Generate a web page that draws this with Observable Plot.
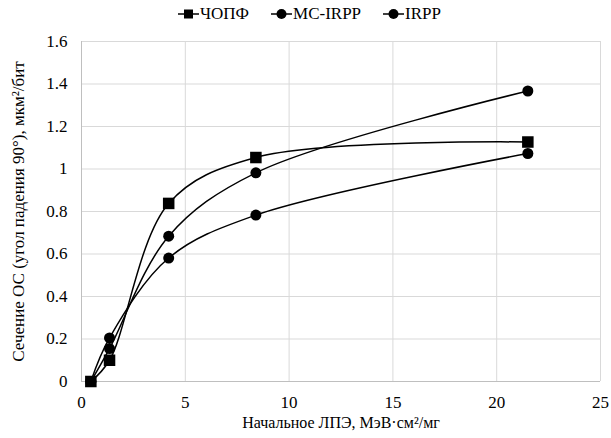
<!DOCTYPE html>
<html>
<head>
<meta charset="utf-8">
<script src="https://cdn.jsdelivr.net/npm/d3@7"></script>
<script src="https://cdn.jsdelivr.net/npm/@observablehq/plot@0.6"></script>
<style>
  body { margin: 0; background: #fff; font-family: 'Liberation Serif', 'Times New Roman', Times, serif; }
  #wrap { width: 611px; }
  #legend { height: 28px; display: flex; justify-content: center; align-items: center; font-size: 17px; color: #000; padding-left: 8px; box-sizing: border-box; }
  .item { display: flex; align-items: center; margin: 0 11px; }
  .item svg { margin-right: 1px; }
  #chart g[aria-label$="tick label"] { font-size: 17px; }
</style>
</head>
<body>
<div id="wrap">
  <div id="legend"></div>
  <div id="chart"></div>
</div>
<script>
// Data
const seriesNames = ["ЧОПФ", "МС-IRPP", "IRPP"];
const seriesSymbols = ["square", "circle", "circle"];
const xValues = [0.45, 1.35, 4.2, 8.4, 21.5];
const chopf  = [0, 0.100, 0.838, 1.054, 1.127];
const mcIrpp = [0, 0.155, 0.684, 0.982, 1.367];
const irpp   = [0, 0.205, 0.581, 0.783, 1.073];
const xTicks = [0, 5, 10, 15, 20, 25];
const yTicks = [0, 0.2, 0.4, 0.6, 0.8, 1, 1.2, 1.4, 1.6];
const xLabel = "Начальное ЛПЭ, МэВ·см²/мг";
const yLabel = "Сечение ОС (угол падения 90°), мкм²/бит";

const FONT = "'Liberation Serif', 'Times New Roman', Times, serif";

const allSeries = [chopf, mcIrpp, irpp];
const data = [];
allSeries.forEach((vals, si) => {
  vals.forEach((v, i) => data.push({series: seriesNames[si], symbol: seriesSymbols[si], x: xValues[i], y: v}));
});

// Legend
const legend = document.getElementById("legend");
seriesNames.forEach((name, i) => {
  const item = document.createElement("div");
  item.className = "item";
  const marker = seriesSymbols[i] === "square"
    ? '<rect x="6" y="2.5" width="9" height="9" fill="#000"/>'
    : '<circle cx="10.5" cy="7" r="5" fill="#000"/>';
  item.innerHTML = `<svg width="21" height="14"><line x1="0" y1="7" x2="21" y2="7" stroke="#000" stroke-width="1.5"/>${marker}</svg><span>${name}</span>`;
  legend.appendChild(item);
});

const chart = Plot.plot({
  width: 611,
  height: 410,
  marginTop: 13,
  marginBottom: 57,
  marginLeft: 81,
  marginRight: 11,
  style: {fontFamily: FONT, fontSize: "17px", color: "#000", background: "#fff"},
  x: {domain: [0, 25]},
  y: {domain: [0, 1.6]},
  marks: [
    Plot.gridY(yTicks, {stroke: "#d9d9d9", strokeOpacity: 1, strokeWidth: 1}),
    Plot.gridX(xTicks, {stroke: "#d9d9d9", strokeOpacity: 1, strokeWidth: 1}),
    Plot.ruleY([0], {stroke: "#bfbfbf", strokeWidth: 1}),
    Plot.ruleX([0], {stroke: "#bfbfbf", strokeWidth: 1}),
    Plot.axisX({ticks: xTicks, tickSize: 0, tickPadding: 14, label: null, fontSize: 17, fontFamily: FONT}),
    Plot.axisY({ticks: yTicks, tickSize: 0, tickPadding: 14, label: null, fontSize: 17, fontFamily: FONT, tickFormat: d => String(+d.toFixed(1))}),
    Plot.line(data, {x: "x", y: "y", z: "series", stroke: "#000", strokeWidth: 1.5, curve: "catmull-rom"}),
    Plot.dot(data.filter(d => d.symbol === "circle"), {x: "x", y: "y", symbol: "circle", r: 5.5, fill: "#000", stroke: "none"}),
    Plot.dot(data.filter(d => d.symbol === "square"), {x: "x", y: "y", symbol: "square", r: 6.5, fill: "#000", stroke: "none"}),
    Plot.text([xLabel], {frameAnchor: "bottom", textAnchor: "middle", dy: 46, fontSize: 16, fontFamily: FONT, fill: "#000"}),
    Plot.text([yLabel], {frameAnchor: "left", textAnchor: "middle", dx: -63, rotate: -90, fontSize: 17, fontFamily: FONT, fill: "#000"})
  ]
});
document.getElementById("chart").appendChild(chart);
</script>
</body>
</html>
